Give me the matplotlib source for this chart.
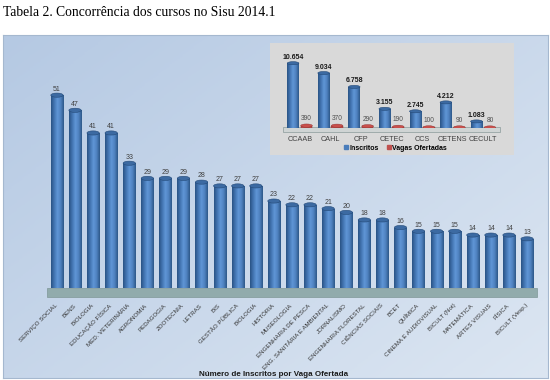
import numpy as np
import matplotlib
matplotlib.use('Agg')
import matplotlib.pyplot as plt
from matplotlib.patches import Rectangle, Ellipse
from matplotlib.colors import LinearSegmentedColormap
from matplotlib.lines import Line2D

plt.rcParams['font.family'] = ['Liberation Sans', 'DejaVu Sans']

# main chart data
cursos = ['SERVIÇO SOCIAL', 'BENS', 'BIOLOGIA', 'EDUCAÇÃO FÍSICA', 'MED. VETERINÁRIA',
          'AGRONOMIA', 'PEDAGOGIA', 'ZOOTECNIA', 'LETRAS', 'BIS', 'GESTÃO PÚBLICA',
          'BIOLOGIA', 'HISTÓRIA', 'MUSEOLOGIA', 'ENGENHARIA DE PESCA',
          'ENG. SANITÁRIA E AMBIENTAL', 'JORNALISMO', 'ENGENHARIA FLORESTAL',
          'CIÊNCIAS SOCIAIS', 'BCET', 'QUÍMICA', 'CINEMA E AUDIOVISUAL',
          'BICULT (Not)', 'MATEMÁTICA', 'ARTES VISUAIS', 'FÍSICA', 'BICULT (Vesp.)']
concorrencia = [51, 47, 41, 41, 33, 29, 29, 29, 28, 27, 27, 27, 23, 22, 22, 21, 20,
                18, 18, 16, 15, 15, 15, 14, 14, 14, 13]

# inset data
centros = ['CCAAB', 'CAHL', 'CFP', 'CETEC', 'CCS', 'CETENS', 'CECULT']
inscritos = [10654, 9034, 6758, 3155, 2745, 4212, 1083]
vagas = [390, 370, 290, 190, 100, 90, 80]

W, H = 550, 380
fig = plt.figure(figsize=(5.5, 3.8), dpi=100)


def box(x0, y0, x1, y1):
    # pixel box (top-left origin) -> figure fraction rect
    return [x0 / W, (H - y1) / H, (x1 - x0) / W, (y1 - y0) / H]


fig.text(3 / W, 1 - 12 / H, 'Tabela 2. Concorrência dos cursos no Sisu 2014.1',
         family=['Liberation Serif', 'DejaVu Serif'], fontsize=9.8, va='center', ha='left')

# panel background gradient
bg = fig.add_axes(box(3, 35, 548, 378), zorder=0)
gx, gy = np.meshgrid(np.linspace(0, 1, 200), np.linspace(0, 1, 200))
g = 0.55 * gx + 0.45 * gy
bg_cmap = LinearSegmentedColormap.from_list('bg', ['#b5c9e3', '#dce6f2'])
bg.imshow(g, cmap=bg_cmap, aspect='auto', extent=[0, 1, 1, 0])
bg.set_xticks([])
bg.set_yticks([])
for s in bg.spines.values():
    s.set_color('#a5b8cf')
    s.set_linewidth(0.8)

cyl = LinearSegmentedColormap.from_list('cyl', ['#2a5485', '#4375b2', '#6096d6', '#4f82c0', '#2d5889'])


def cylinders(ax, bars, cap_h, capcolor='#3c6aa2'):
    for b in bars:
        x0, w, h = b.get_x(), b.get_width(), b.get_height()
        im = ax.imshow(np.linspace(0, 1, 50)[None, :], cmap=cyl, aspect='auto',
                       extent=[x0, x0 + w, 0, h], zorder=3)
        im.set_clip_path(b)
        ax.add_patch(Ellipse((x0 + w / 2, h), w, cap_h, facecolor=capcolor,
                             edgecolor='#244a78', lw=0.4, zorder=4))


# main chart
ax = fig.add_axes(box(47, 46, 537, 288), zorder=2)
ax.set_facecolor('none')
x = np.arange(len(cursos))
bars = ax.bar(x, concorrencia, width=0.68, color='none', edgecolor='none', zorder=3)
ax.set_xlim(-0.55, len(cursos) - 0.45)
ax.set_ylim(0, 64)
ax.set_autoscale_on(False)
cylinders(ax, bars, 1.1)
for xi, v in zip(x, concorrencia):
    ax.text(xi, v + 0.7, str(v), ha='center', va='bottom', fontsize=5, color='#404040', zorder=5)
ax.add_patch(Rectangle((0, -0.037), 1, 0.037, transform=ax.transAxes, clip_on=False,
                       facecolor='#91abac', edgecolor='#7f9797', lw=0.5, zorder=2))
ax.set_xticks(x)
ax.set_xticklabels(cursos, rotation=45, ha='right', va='center', rotation_mode='anchor',
                   fontsize=4.4, color='#333333')
ax.tick_params(axis='x', length=0, pad=12)
ax.set_yticks([])
for s in ax.spines.values():
    s.set_visible(False)
fig.text(274 / W, 1 - 374 / H, 'Número de Inscritos por Vaga Ofertada', ha='center',
         va='center', fontsize=5.8, fontweight='bold', color='#1a1a1a')

# inset chart
ib = fig.add_axes(box(270, 43, 514, 155), zorder=3)
ib.set_facecolor('#d9d9d9')
ib.set_xticks([])
ib.set_yticks([])
for s in ib.spines.values():
    s.set_visible(False)

ia = fig.add_axes(box(283, 55, 500, 128), zorder=4)
ia.set_facecolor('none')
xi_ = np.arange(len(centros))
b1 = ia.bar(xi_ - 0.22, inscritos, width=0.38, color='none', edgecolor='none', zorder=3)
b2 = ia.bar(xi_ + 0.22, vagas, width=0.38, color='#c0504d', edgecolor='#8c3331', lw=0.3,
            zorder=3)
ia.set_xlim(-0.55, len(centros) - 0.45)
ia.set_ylim(0, 12000)
ia.set_autoscale_on(False)
cylinders(ia, b1, 500)
for xx, v in zip(xi_, vagas):
    ia.add_patch(Ellipse((xx + 0.22, v), 0.38, 550, facecolor='#c9504c',
                         edgecolor='#8c3331', lw=0.3, zorder=4))
for xx, v in zip(xi_, inscritos):
    ia.text(xx - 0.22, v + 400, f'{v:,}'.replace(',', '.'), ha='center', va='bottom',
            fontsize=5, fontweight='bold', color='#1a1a1a', zorder=5)
for xx, v in zip(xi_, vagas):
    ia.text(xx + 0.22, v + 600, str(v), ha='center', va='bottom', fontsize=4.8,
            color='#505050', zorder=5)
ia.add_patch(Rectangle((0, -0.05), 1, 0.07, transform=ia.transAxes, clip_on=False,
                       facecolor='#cfd4d4', edgecolor='#8a9a9a', lw=0.5, zorder=2))
ia.set_xticks(xi_)
ia.set_xticklabels(centros, fontsize=5.2, color='#404040')
ia.tick_params(axis='x', length=0, pad=6)
ia.set_yticks([])
for s in ia.spines.values():
    s.set_visible(False)
handles = [Line2D([], [], marker='s', ls='', color='#4a7dbb', markersize=3),
           Line2D([], [], marker='s', ls='', color='#c0504d', markersize=3)]
fig.legend(handles, ['Inscritos', 'Vagas Ofertadas'], loc='center',
           bbox_to_anchor=(395 / W, 1 - 148 / H), ncol=2, frameon=False,
           prop={'size': 5, 'weight': 'bold'}, handletextpad=0.1, columnspacing=1.0,
           handlelength=0.8)

fig.savefig('out.png', dpi=100)
